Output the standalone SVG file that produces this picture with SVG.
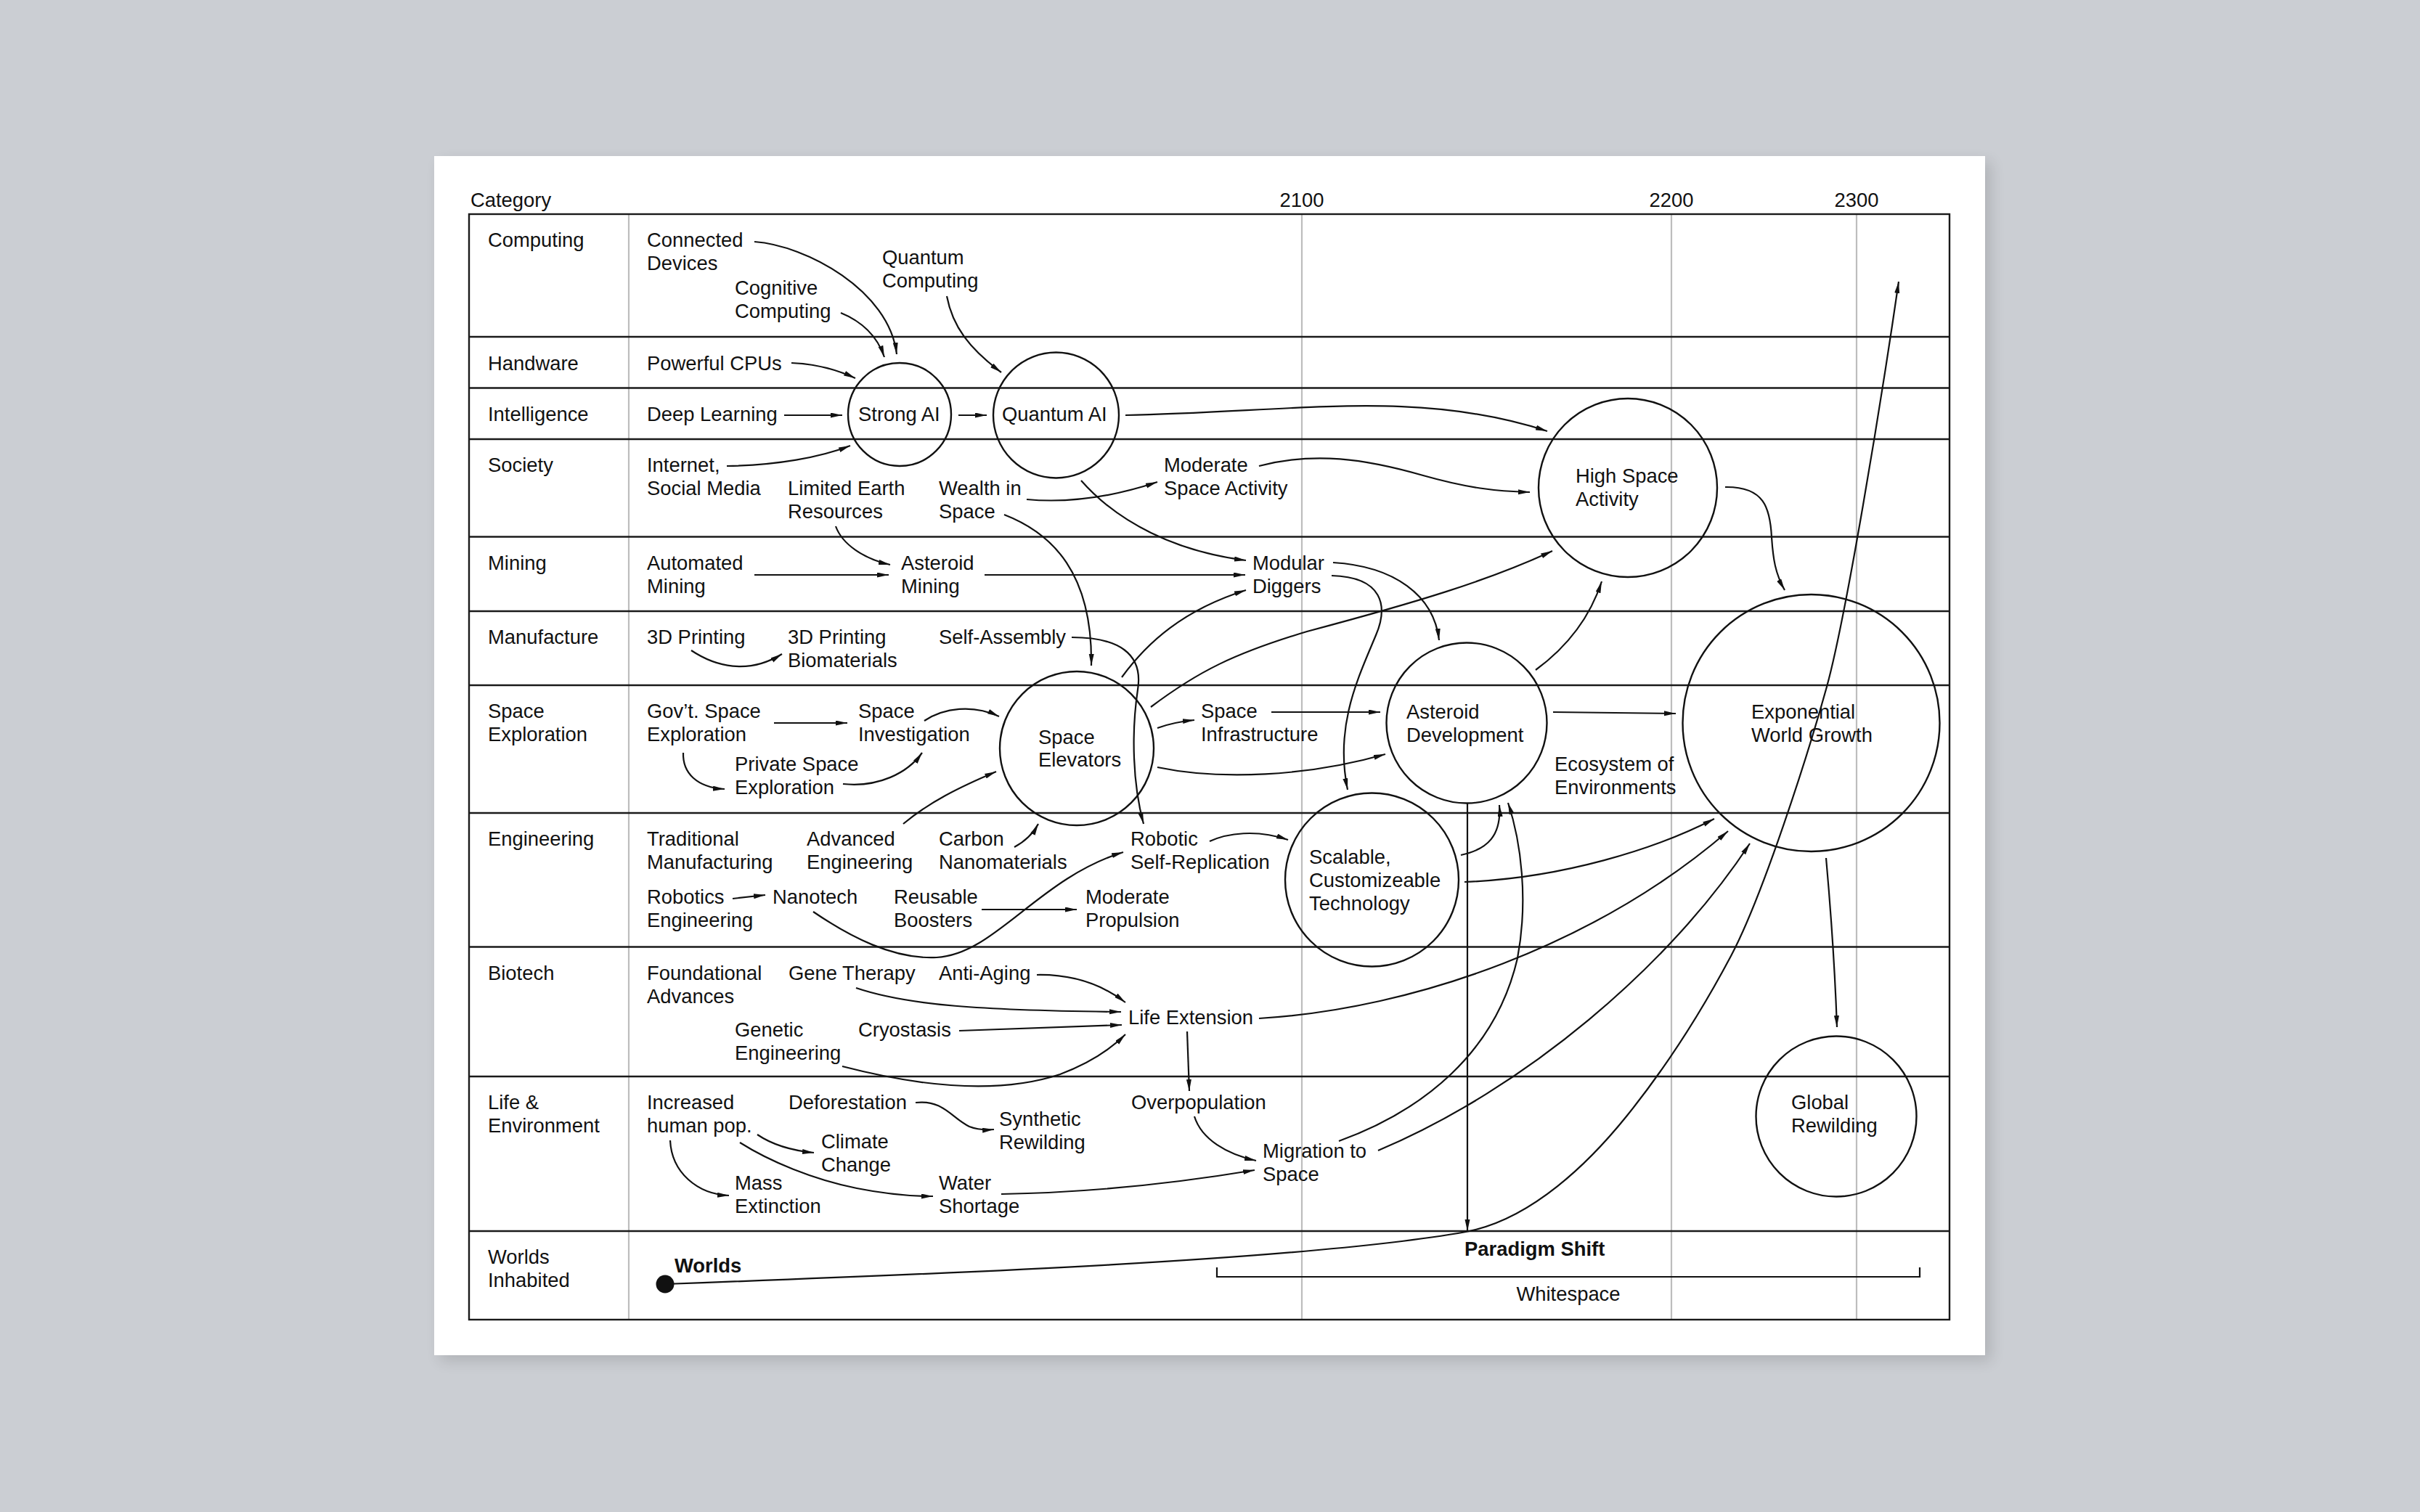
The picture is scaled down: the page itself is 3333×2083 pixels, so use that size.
<svg xmlns="http://www.w3.org/2000/svg" width="3333" height="2083" viewBox="0 0 3333 2083">
<defs>
<style>
.lbl{font-family:"Liberation Sans",Arial,Helvetica,sans-serif;font-size:27.4px;fill:#111;}
.bold{font-weight:bold;}
.rule{stroke:#1a1a1a;stroke-width:2.4;fill:none;}
.grid{stroke:#bdbdbd;stroke-width:2.2;fill:none;}
.conn path{fill:none;stroke:#111;stroke-width:2.2;}
.node circle{fill:none;stroke:#111;stroke-width:2.4;}
</style>
<marker id="ah" markerUnits="userSpaceOnUse" markerWidth="18" markerHeight="8" refX="16" refY="3.5" orient="auto">
<path d="M0,0 L16,3.5 L0,7 z" fill="#111"/>
</marker>
<filter id="sh" x="-5%" y="-5%" width="110%" height="110%">
<feGaussianBlur stdDeviation="10"/>
</filter>
</defs>

<rect x="0" y="0" width="3333" height="2083" fill="#cbced3"/>
<rect x="606" y="223" width="2136" height="1652" fill="#000" opacity="0.13" filter="url(#sh)"/>
<rect x="598" y="215" width="2136" height="1652" fill="#ffffff"/>

<g id="table">
<line class="grid" x1="866" y1="295" x2="866" y2="1818"/>
<line class="grid" x1="1793" y1="295" x2="1793" y2="1818"/>
<line class="grid" x1="2302" y1="295" x2="2302" y2="1818"/>
<line class="grid" x1="2557" y1="295" x2="2557" y2="1818"/>
<rect class="rule" x="646" y="295" width="2039" height="1523"/>
<line class="rule" x1="646" y1="464" x2="2685" y2="464"/>
<line class="rule" x1="646" y1="534.5" x2="2685" y2="534.5"/>
<line class="rule" x1="646" y1="605" x2="2685" y2="605"/>
<line class="rule" x1="646" y1="739.5" x2="2685" y2="739.5"/>
<line class="rule" x1="646" y1="842" x2="2685" y2="842"/>
<line class="rule" x1="646" y1="944" x2="2685" y2="944"/>
<line class="rule" x1="646" y1="1120" x2="2685" y2="1120"/>
<line class="rule" x1="646" y1="1304.5" x2="2685" y2="1304.5"/>
<line class="rule" x1="646" y1="1483" x2="2685" y2="1483"/>
<line class="rule" x1="646" y1="1696" x2="2685" y2="1696"/>
<text class="lbl" x="648" y="285">Category</text>
<text class="lbl" x="1793" y="285" text-anchor="middle">2100</text>
<text class="lbl" x="2302" y="285" text-anchor="middle">2200</text>
<text class="lbl" x="2557" y="285" text-anchor="middle">2300</text>
</g>

<g id="categories" class="lbl">
<text class="lbl" x="672" y="340">Computing</text>
<text class="lbl" x="672" y="510">Handware</text>
<text class="lbl" x="672" y="580">Intelligence</text>
<text class="lbl" x="672" y="650">Society</text>
<text class="lbl" x="672" y="785">Mining</text>
<text class="lbl" x="672" y="887">Manufacture</text>
<text class="lbl" x="672" y="989">Space<tspan x="672" dy="32">Exploration</tspan></text>
<text class="lbl" x="672" y="1165">Engineering</text>
<text class="lbl" x="672" y="1350">Biotech</text>
<text class="lbl" x="672" y="1528">Life &amp;<tspan x="672" dy="32">Environment</tspan></text>
<text class="lbl" x="672" y="1741">Worlds<tspan x="672" dy="32">Inhabited</tspan></text>
</g>

<g id="connectors" class="conn">
<path id="c-connected-strong" d="M1039,333 C1110,338 1225,400 1235,488" marker-end="url(#ah)"/>
<path id="c-cognitive-strong" d="M1158,431 C1185,442 1208,462 1218,492" marker-end="url(#ah)"/>
<path id="c-cpus-strong" d="M1090,500 C1120,501 1150,508 1178,521" marker-end="url(#ah)"/>
<path id="c-deep-strong" d="M1080,572 L1160,572" marker-end="url(#ah)"/>
<path id="c-internet-strong" d="M1001,642 C1070,641 1130,630 1171,614" marker-end="url(#ah)"/>
<path id="c-strong-quantum" d="M1320,572 L1359,572" marker-end="url(#ah)"/>
<path id="c-qc-quantum" d="M1304,408 C1312,450 1335,480 1379,513" marker-end="url(#ah)"/>
<path id="c-quantum-high" d="M1550,572 C1780,568 1950,535 2131,594" marker-end="url(#ah)"/>
<path id="c-moderate-high" d="M1734,642 C1810,622 1880,632 1960,655 C2020,672 2060,677 2107,678" marker-end="url(#ah)"/>
<path id="c-wealth-moderate" d="M1414,688 C1480,694 1540,682 1594,664" marker-end="url(#ah)"/>
<path id="c-quantum-modular" d="M1489,662 C1540,720 1620,760 1716,772" marker-end="url(#ah)"/>
<path id="c-astmining-modular" d="M1356,792 L1715,792" marker-end="url(#ah)"/>
<path id="c-elev-modular" d="M1545,933 C1580,885 1630,840 1716,813" marker-end="url(#ah)"/>
<path id="c-elev-high" d="M1585,974 C1650,925 1700,900 1800,870 C1950,830 2050,800 2138,759" marker-end="url(#ah)"/>
<path id="c-wealth-elev" d="M1383,709 C1450,735 1505,790 1503,917" marker-end="url(#ah)"/>
<path id="c-limited-astmining" d="M1151,725 C1160,750 1190,770 1226,778" marker-end="url(#ah)"/>
<path id="c-automated-astmining" d="M1039,792 L1224,792" marker-end="url(#ah)"/>
<path id="c-modular-astdev" d="M1836,775 C1920,780 1975,820 1982,882" marker-end="url(#ah)"/>
<path id="c-diggers-scalable" d="M1834,793 C1905,795 1912,835 1895,875 C1870,935 1838,1000 1856,1088" marker-end="url(#ah)"/>
<path id="c-3d-bio" d="M952,896 C985,918 1030,930 1077,901" marker-end="url(#ah)"/>
<path id="c-selfassembly-robotic" d="M1476,878 C1540,878 1575,900 1567,950 C1558,1010 1560,1080 1575,1135" marker-end="url(#ah)"/>
<path id="c-gov-invest" d="M1066,996 L1167,996" marker-end="url(#ah)"/>
<path id="c-gov-private" d="M941,1037 C940,1065 960,1085 998,1087" marker-end="url(#ah)"/>
<path id="c-private-invest" d="M1161,1080 C1210,1085 1250,1065 1270,1037" marker-end="url(#ah)"/>
<path id="c-invest-elev" d="M1273,993 C1300,975 1340,970 1376,987" marker-end="url(#ah)"/>
<path id="c-elev-infra" d="M1594,1003 C1610,997 1625,994 1645,992" marker-end="url(#ah)"/>
<path id="c-elev-astdev" d="M1594,1057 C1680,1075 1800,1070 1908,1039" marker-end="url(#ah)"/>
<path id="c-infra-astdev" d="M1751,981 L1901,981" marker-end="url(#ah)"/>
<path id="c-astdev-expo" d="M2139,981 L2308,983" marker-end="url(#ah)"/>
<path id="c-astdev-high" d="M2115,923 C2160,890 2190,850 2206,801" marker-end="url(#ah)"/>
<path id="c-high-expo" d="M2376,671 C2430,670 2438,700 2440,740 C2442,770 2445,790 2458,813" marker-end="url(#ah)"/>
<path id="c-expo-global" d="M2515,1182 C2522,1260 2527,1330 2530,1415" marker-end="url(#ah)"/>
<path id="c-worlds" d="M916,1769 C1300,1755 1800,1736 2019,1697 C2110,1680 2190,1600 2240,1538 S2340,1400 2384,1317 S2490,1040 2516,946 S2590,560 2615,388" marker-end="url(#ah)"/>
<path id="c-astdev-paradigm" d="M2021,1106 L2021,1696" marker-end="url(#ah)"/>
<path id="c-scalable-astdev" d="M2012,1178 C2050,1170 2068,1150 2065,1109" marker-end="url(#ah)"/>
<path id="c-migration-astdev" d="M1844,1572 C1960,1530 2060,1450 2090,1320 C2105,1240 2095,1160 2077,1106" marker-end="url(#ah)"/>
<path id="c-scalable-expo" d="M2017,1215 C2150,1210 2280,1170 2361,1128" marker-end="url(#ah)"/>
<path id="c-life-expo" d="M1734,1403 C1950,1390 2200,1300 2380,1145" marker-end="url(#ah)"/>
<path id="c-migration-expo" d="M1898,1585 C2100,1500 2300,1330 2410,1162" marker-end="url(#ah)"/>
<path id="c-overpop-migration" d="M1645,1538 C1655,1570 1690,1590 1730,1599" marker-end="url(#ah)"/>
<path id="c-water-migration" d="M1379,1645 C1500,1643 1620,1630 1728,1612" marker-end="url(#ah)"/>
<path id="c-life-overpop" d="M1635,1421 L1638,1503" marker-end="url(#ah)"/>
<path id="c-gene-life" d="M1179,1361 C1250,1385 1350,1392 1544,1394" marker-end="url(#ah)"/>
<path id="c-anti-life" d="M1428,1343 C1480,1342 1520,1358 1550,1381" marker-end="url(#ah)"/>
<path id="c-cryo-life" d="M1321,1420 L1545,1412" marker-end="url(#ah)"/>
<path id="c-genetic-life" d="M1160,1469 C1260,1495 1370,1510 1460,1480 C1500,1465 1530,1445 1550,1425" marker-end="url(#ah)"/>
<path id="c-defor-synth" d="M1261,1519 C1300,1515 1310,1540 1335,1552 C1345,1556 1355,1557 1369,1556" marker-end="url(#ah)"/>
<path id="c-pop-climate" d="M1043,1563 C1065,1578 1090,1585 1121,1588" marker-end="url(#ah)"/>
<path id="c-pop-water" d="M1019,1574 C1060,1600 1120,1625 1180,1637 C1220,1645 1250,1648 1285,1648" marker-end="url(#ah)"/>
<path id="c-pop-mass" d="M923,1571 C925,1615 960,1645 1004,1647" marker-end="url(#ah)"/>
<path id="c-robotics-nano" d="M1009,1238 L1054,1233" marker-end="url(#ah)"/>
<path id="c-nano-robotic" d="M1120,1256 C1170,1290 1230,1322 1290,1319 C1370,1315 1430,1210 1547,1174" marker-end="url(#ah)"/>
<path id="c-boosters-propulsion" d="M1352,1253 L1483,1253" marker-end="url(#ah)"/>
<path id="c-adv-elev" d="M1244,1135 C1280,1105 1320,1085 1372,1063" marker-end="url(#ah)"/>
<path id="c-carbon-elev" d="M1397,1167 C1410,1160 1422,1150 1430,1135" marker-end="url(#ah)"/>
<path id="c-robotic-scalable" d="M1666,1159 C1690,1148 1730,1142 1774,1157" marker-end="url(#ah)"/>
<path id="c-bracket" d="M1676,1746 L1676,1759 L2644,1759 L2644,1746" stroke-width="2"/>
</g>

<g id="n-connected-devices"><text class="lbl" x="891" y="340">Connected<tspan x="891" dy="32">Devices</tspan></text></g>
<g id="n-cognitive-computing"><text class="lbl" x="1012" y="406">Cognitive<tspan x="1012" dy="32">Computing</tspan></text></g>
<g id="n-quantum-computing"><text class="lbl" x="1215" y="364">Quantum<tspan x="1215" dy="32">Computing</tspan></text></g>
<g id="n-powerful-cpus"><text class="lbl" x="891" y="510">Powerful CPUs</text></g>
<g id="n-deep-learning"><text class="lbl" x="891" y="580">Deep Learning</text></g>
<g id="n-strong-ai" class="node"><circle cx="1239" cy="571" r="71"/><text class="lbl" x="1182" y="580">Strong AI</text></g>
<g id="n-quantum-ai" class="node"><circle cx="1454.5" cy="572" r="86.5"/><text class="lbl" x="1380" y="580">Quantum AI</text></g>
<g id="n-internet"><text class="lbl" x="891" y="650">Internet,<tspan x="891" dy="32">Social Media</tspan></text></g>
<g id="n-limited-earth"><text class="lbl" x="1085" y="682">Limited Earth<tspan x="1085" dy="32">Resources</tspan></text></g>
<g id="n-wealth"><text class="lbl" x="1293" y="682">Wealth in<tspan x="1293" dy="32">Space</tspan></text></g>
<g id="n-moderate-space"><text class="lbl" x="1603" y="650">Moderate<tspan x="1603" dy="32">Space Activity</tspan></text></g>
<g id="n-high-space" class="node"><circle cx="2242" cy="672" r="123"/><text class="lbl" x="2170" y="665">High Space<tspan x="2170" dy="32">Activity</tspan></text></g>
<g id="n-automated-mining"><text class="lbl" x="891" y="785">Automated<tspan x="891" dy="32">Mining</tspan></text></g>
<g id="n-asteroid-mining"><text class="lbl" x="1241" y="785">Asteroid<tspan x="1241" dy="32">Mining</tspan></text></g>
<g id="n-modular-diggers"><text class="lbl" x="1725" y="785">Modular<tspan x="1725" dy="32">Diggers</tspan></text></g>
<g id="n-3d-printing"><text class="lbl" x="891" y="887">3D Printing</text></g>
<g id="n-3d-bio"><text class="lbl" x="1085" y="887">3D Printing<tspan x="1085" dy="32">Biomaterials</tspan></text></g>
<g id="n-self-assembly"><text class="lbl" x="1293" y="887">Self-Assembly</text></g>
<g id="n-gov-space"><text class="lbl" x="891" y="989">Gov’t. Space<tspan x="891" dy="32">Exploration</tspan></text></g>
<g id="n-space-investigation"><text class="lbl" x="1182" y="989">Space<tspan x="1182" dy="32">Investigation</tspan></text></g>
<g id="n-private-space"><text class="lbl" x="1012" y="1062">Private Space<tspan x="1012" dy="32">Exploration</tspan></text></g>
<g id="n-space-elevators" class="node"><circle cx="1483" cy="1031" r="106"/><text class="lbl" x="1430" y="1025">Space<tspan x="1430" dy="31">Elevators</tspan></text></g>
<g id="n-space-infra"><text class="lbl" x="1654" y="989">Space<tspan x="1654" dy="32">Infrastructure</tspan></text></g>
<g id="n-asteroid-dev" class="node"><circle cx="2020" cy="996" r="110.5"/><text class="lbl" x="1937" y="990">Asteroid<tspan x="1937" dy="32">Development</tspan></text></g>
<g id="n-ecosystem"><text class="lbl" x="2141" y="1062">Ecosystem of<tspan x="2141" dy="32">Environments</tspan></text></g>
<g id="n-exponential" class="node"><circle cx="2494.5" cy="996" r="177"/><text class="lbl" x="2412" y="990">Exponential<tspan x="2412" dy="32">World Growth</tspan></text></g>
<g id="n-traditional"><text class="lbl" x="891" y="1165">Traditional<tspan x="891" dy="32">Manufacturing</tspan></text></g>
<g id="n-advanced"><text class="lbl" x="1111" y="1165">Advanced<tspan x="1111" dy="32">Engineering</tspan></text></g>
<g id="n-carbon"><text class="lbl" x="1293" y="1165">Carbon<tspan x="1293" dy="32">Nanomaterials</tspan></text></g>
<g id="n-robotic-self"><text class="lbl" x="1557" y="1165">Robotic<tspan x="1557" dy="32">Self-Replication</tspan></text></g>
<g id="n-robotics-eng"><text class="lbl" x="891" y="1245">Robotics<tspan x="891" dy="32">Engineering</tspan></text></g>
<g id="n-nanotech"><text class="lbl" x="1064" y="1245">Nanotech</text></g>
<g id="n-reusable"><text class="lbl" x="1231" y="1245">Reusable<tspan x="1231" dy="32">Boosters</tspan></text></g>
<g id="n-propulsion"><text class="lbl" x="1495" y="1245">Moderate<tspan x="1495" dy="32">Propulsion</tspan></text></g>
<g id="n-scalable" class="node"><circle cx="1889.5" cy="1212" r="119.5"/><text class="lbl" x="1803" y="1190">Scalable,<tspan x="1803" dy="32">Customizeable</tspan><tspan x="1803" dy="32">Technology</tspan></text></g>
<g id="n-foundational"><text class="lbl" x="891" y="1350">Foundational<tspan x="891" dy="32">Advances</tspan></text></g>
<g id="n-gene-therapy"><text class="lbl" x="1086" y="1350">Gene Therapy</text></g>
<g id="n-anti-aging"><text class="lbl" x="1293" y="1350">Anti-Aging</text></g>
<g id="n-genetic"><text class="lbl" x="1012" y="1428">Genetic<tspan x="1012" dy="32">Engineering</tspan></text></g>
<g id="n-cryostasis"><text class="lbl" x="1182" y="1428">Cryostasis</text></g>
<g id="n-life-extension"><text class="lbl" x="1554" y="1411">Life Extension</text></g>
<g id="n-increased-pop"><text class="lbl" x="891" y="1528">Increased<tspan x="891" dy="32">human pop.</tspan></text></g>
<g id="n-deforestation"><text class="lbl" x="1086" y="1528">Deforestation</text></g>
<g id="n-climate"><text class="lbl" x="1131" y="1582">Climate<tspan x="1131" dy="32">Change</tspan></text></g>
<g id="n-synthetic"><text class="lbl" x="1376" y="1551">Synthetic<tspan x="1376" dy="32">Rewilding</tspan></text></g>
<g id="n-mass"><text class="lbl" x="1012" y="1639">Mass<tspan x="1012" dy="32">Extinction</tspan></text></g>
<g id="n-water"><text class="lbl" x="1293" y="1639">Water<tspan x="1293" dy="32">Shortage</tspan></text></g>
<g id="n-overpop"><text class="lbl" x="1558" y="1528">Overpopulation</text></g>
<g id="n-migration"><text class="lbl" x="1739" y="1595">Migration to<tspan x="1739" dy="32">Space</tspan></text></g>
<g id="n-global-rewilding" class="node"><circle cx="2529" cy="1538" r="110.5"/><text class="lbl" x="2467" y="1528">Global<tspan x="2467" dy="32">Rewilding</tspan></text></g>
<g id="n-worlds"><circle cx="916" cy="1769" r="12.5" fill="#111"/><text class="lbl bold" x="929" y="1753">Worlds</text></g>
<g id="n-paradigm"><text class="lbl bold" x="2017" y="1730">Paradigm Shift</text></g>
<g id="n-whitespace"><text class="lbl" x="2160" y="1792" text-anchor="middle">Whitespace</text></g>
</svg>
